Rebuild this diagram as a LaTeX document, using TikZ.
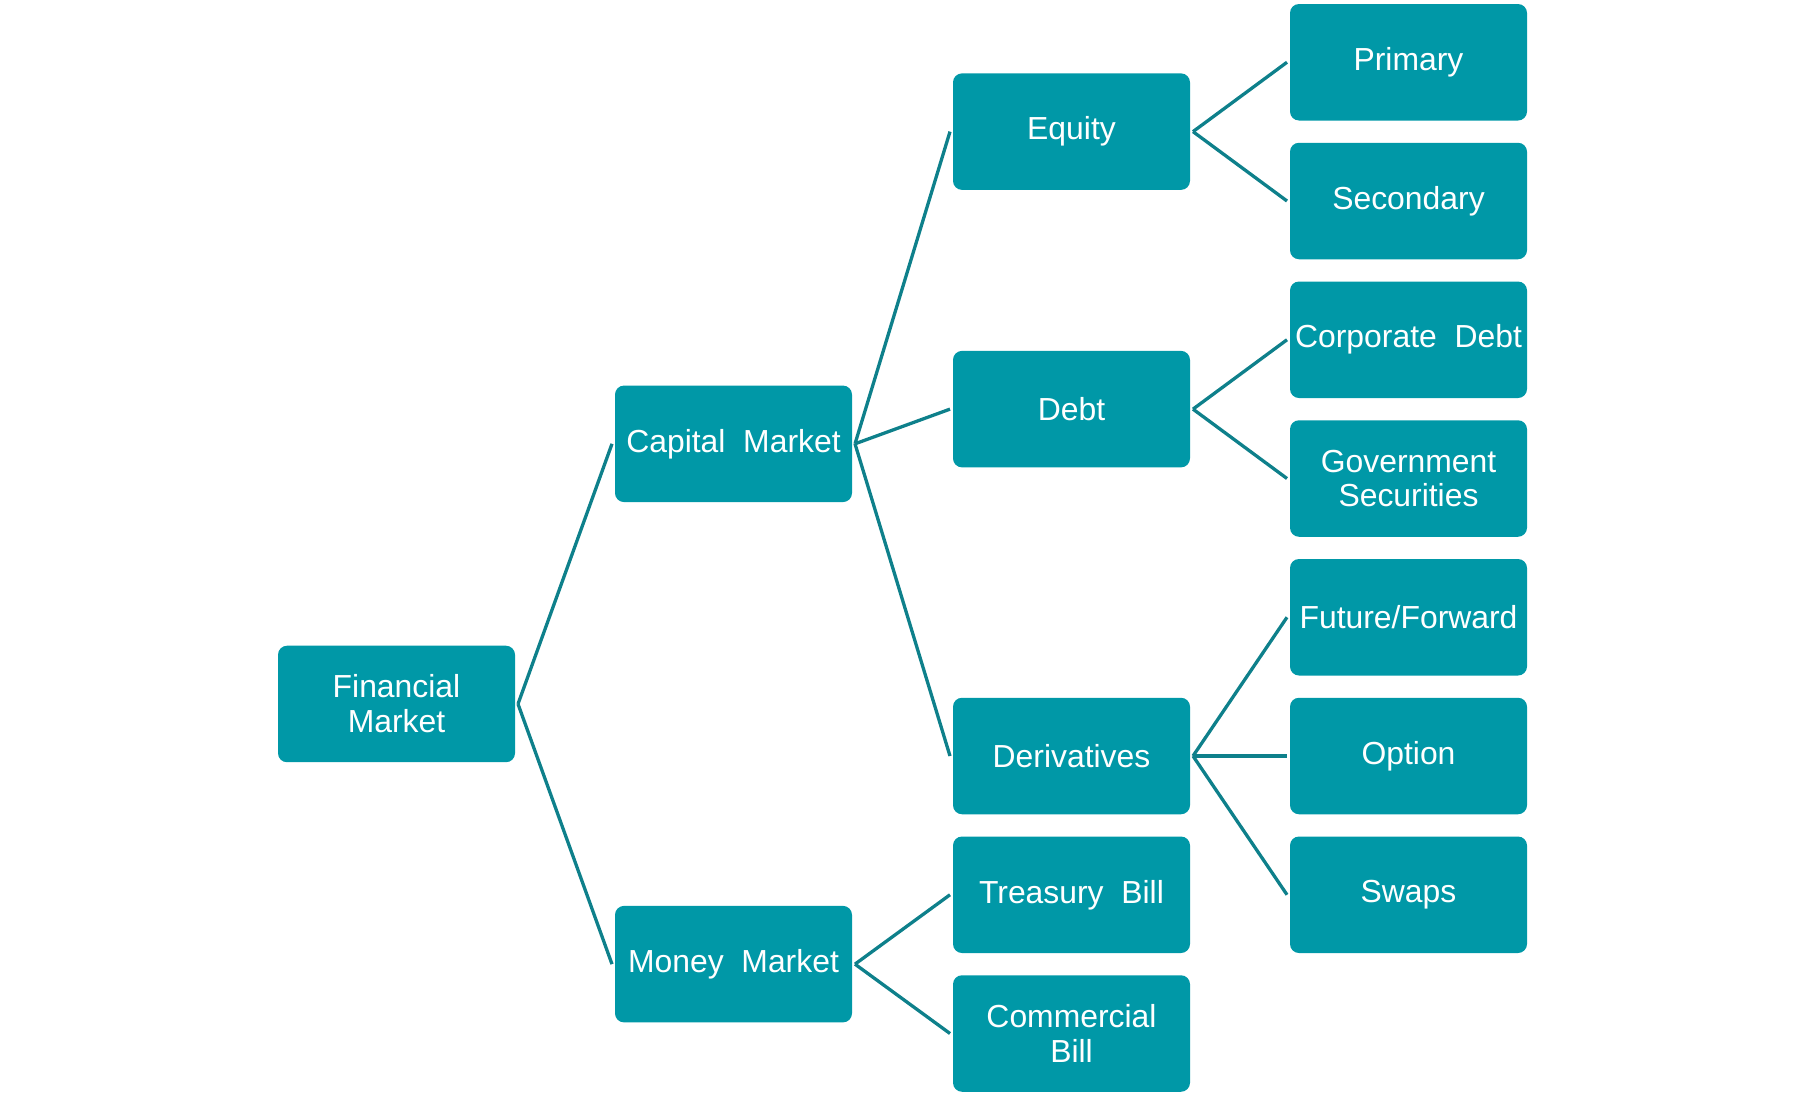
\documentclass[tikz,border=0pt]{standalone}
\usepackage{fontspec}
\setmainfont{Liberation Sans}
\definecolor{boxfill}{RGB}{0,152,167}
\definecolor{linkcol}{RGB}{14,128,139}
\begin{document}
\begin{tikzpicture}[x=1bp,y=-1bp,
  box/.style={fill=boxfill, draw=none, rounded corners=9bp, minimum width=237bp, minimum height=116.5bp,
    inner sep=0pt, outer sep=3bp, text=white, align=center, font=\fontsize{32}{35}\selectfont},
  link/.style={draw=linkcol, line width=3.3bp}]
\useasboundingbox (0,0) rectangle (1805,1094);
\def\rowy#1{62.25+138.75*#1}
% column 3
\node[box] (prim) at (1408.5,{\rowy{0}}) {Primary};
\node[box] (sec)  at (1408.5,{\rowy{1}}) {Secondary};
\node[box] (corp) at (1408.5,{\rowy{2}}) {Corporate\ \ Debt};
\node[box] (gov)  at (1408.5,{\rowy{3}}) {Government\\Securities};
\node[box] (fut)  at (1408.5,{\rowy{4}}) {Future/Forward};
\node[box] (opt)  at (1408.5,{\rowy{5}}) {Option};
\node[box] (swap) at (1408.5,{\rowy{6}}) {Swaps};
% column 2
\node[box] (eq)   at (1071.5,{\rowy{0.5}}) {Equity};
\node[box] (debt) at (1071.5,{\rowy{2.5}}) {Debt};
\node[box] (der)  at (1071.5,{\rowy{5}}) {Derivatives};
\node[box] (tb)   at (1071.5,{\rowy{6}}) {Treasury\ \ Bill};
\node[box] (cb)   at (1071.5,{\rowy{7}}) {Commercial\\Bill};
% column 1
\node[box] (cap)  at (733.5,{\rowy{2.75}}) {Capital\ \ Market};
\node[box] (mon)  at (733.5,{\rowy{6.5}}) {Money\ \ Market};
% column 0
\node[box] (fin)  at (396.5,{\rowy{4.625}}) {Financial\\Market};
% connectors
\foreach \p/\c in {fin/cap, fin/mon, cap/eq, cap/debt, cap/der, mon/tb, mon/cb,
                   eq/prim, eq/sec, debt/corp, debt/gov, der/fut, der/opt, der/swap}
  \draw[link] (\p.east) -- (\c.west);
\end{tikzpicture}
\end{document}
